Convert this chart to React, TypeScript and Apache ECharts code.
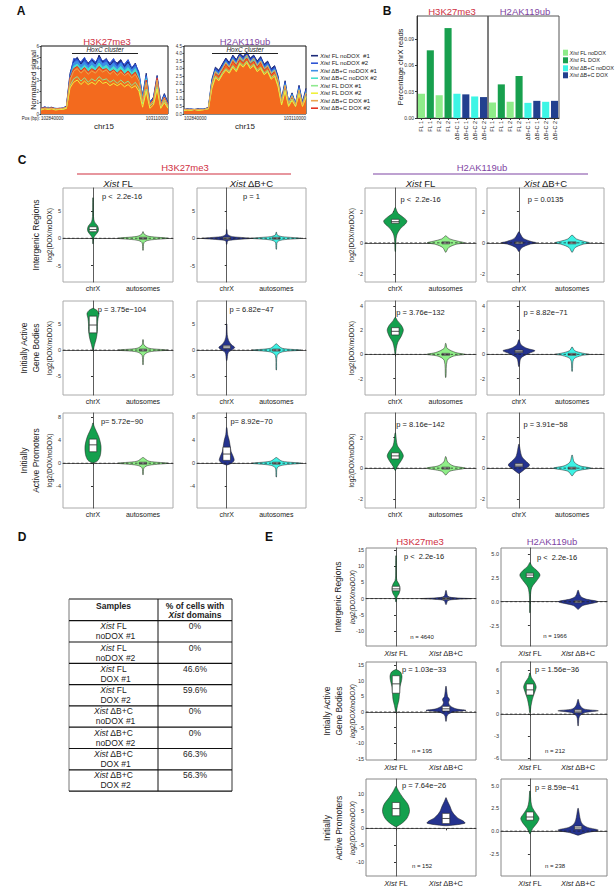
import React, { useEffect, useRef } from 'react';
import * as echarts from 'echarts';

const FONT = "'Liberation Sans', Arial, sans-serif";
const RED = '#cf2f3f';
const PURPLE = '#7f45a3';
const GREEN = '#14a04e';
const LGREEN = '#8fee88';
const NAVY = '#25338f';
const CYAN = '#3df2e4';

// ---------- Panel A : tracks over the HoxC locus ----------
const A_SERIES_NAMES = ['FL noDOX  #1', 'FL noDOX #2', 'ΔB+C noDOX #1', 'ΔB+C noDOX #2', 'FL DOX #1', 'FL DOX #2', 'ΔB+C DOX #1', 'ΔB+C DOX #2'];
const A_POS_LABELS = ['102840000', '103110000'];
const A_H3K27ME3 = [
  [0.5,0.6,0.55,0.6,0.45,0.5,0.5,0.7,3.6,4.7,5.0,4.4,4.9,4.5,4.8,4.4,5.2,4.6,4.9,4.3,4.7,4.5,4.8,4.2,4.6,4.0,4.5,3.5,1.6,3.6,1.0,1.5,3.4,1.0,1.8,1.0],
  [0.45,0.65,0.5,0.55,0.5,0.45,0.55,0.65,3.4,4.9,4.8,4.6,5.0,4.3,4.9,4.6,5.0,4.7,4.8,4.5,4.9,4.3,4.6,4.4,4.8,4.1,4.4,3.7,1.5,3.4,1.1,1.4,3.3,0.9,1.7,0.9],
  [0.5,0.55,0.6,0.5,0.5,0.5,0.5,0.6,3.3,4.5,4.7,4.3,4.6,4.2,4.6,4.3,4.8,4.4,4.6,4.2,4.5,4.1,4.5,4.0,4.4,3.9,4.2,3.4,1.4,3.3,1.0,1.3,3.2,0.9,1.6,0.8],
  [0.45,0.5,0.5,0.5,0.45,0.45,0.5,0.6,3.1,4.2,4.4,4.0,4.3,4.0,4.3,4.0,4.5,4.1,4.3,3.9,4.2,3.9,4.2,3.8,4.1,3.6,4.0,3.2,1.3,3.1,0.9,1.2,3.0,0.8,1.5,0.8],
  [0.4,0.5,0.45,0.5,0.4,0.4,0.45,0.5,2.5,3.1,3.3,2.9,3.2,2.8,3.1,2.9,3.3,3.0,3.1,2.8,3.0,2.7,3.0,2.7,2.9,2.5,2.8,2.3,0.9,2.2,0.7,1.0,2.4,0.6,1.2,0.6],
  [0.35,0.45,0.4,0.45,0.35,0.4,0.4,0.5,2.3,2.8,3.0,2.6,2.9,2.6,2.8,2.6,3.0,2.7,2.8,2.5,2.7,2.5,2.7,2.4,2.6,2.3,2.5,2.0,0.6,2.0,0.5,0.8,2.2,0.5,1.0,0.5],
  [0.45,0.5,0.5,0.5,0.45,0.45,0.5,0.6,3.0,3.8,4.0,3.6,3.9,3.5,3.8,3.6,4.0,3.7,3.9,3.5,3.8,3.4,3.7,3.4,3.6,3.2,3.5,2.9,1.1,2.8,0.8,1.2,3.0,0.7,1.4,0.7],
  [0.5,0.55,0.5,0.55,0.45,0.5,0.5,0.6,3.2,4.0,4.2,3.8,4.1,3.7,4.0,3.8,4.2,3.9,4.0,3.7,3.9,3.6,3.9,3.5,3.8,3.4,3.7,3.0,1.2,3.0,0.9,1.3,3.2,0.8,1.5,0.8],
];
const A_H2AK119UB = [
  [0.3,0.35,0.3,0.3,0.35,0.3,0.35,0.45,2.3,3.1,2.9,3.3,3.7,3.4,3.9,3.6,4.0,3.8,4.1,3.7,3.9,3.5,3.8,3.3,3.5,3.0,3.2,2.5,1.0,2.2,0.8,1.4,0.7,1.9,0.8,1.7],
  [0.3,0.3,0.35,0.3,0.3,0.35,0.3,0.4,2.2,3.0,2.8,3.2,3.6,3.3,3.8,3.5,3.9,3.7,4.0,3.6,3.8,3.4,3.7,3.2,3.4,2.9,3.1,2.4,0.9,2.1,0.8,1.3,0.7,1.8,0.7,1.6],
  [0.3,0.3,0.3,0.3,0.3,0.3,0.3,0.4,2.1,2.9,2.7,3.1,3.5,3.2,3.7,3.4,3.8,3.6,3.9,3.5,3.7,3.3,3.6,3.1,3.3,2.8,3.0,2.3,0.9,2.0,0.7,1.3,0.6,1.7,0.7,1.5],
  [0.25,0.3,0.3,0.3,0.3,0.3,0.3,0.4,2.0,2.8,2.6,3.0,3.4,3.1,3.6,3.3,3.7,3.5,3.8,3.4,3.6,3.2,3.5,3.0,3.2,2.7,2.9,2.2,0.8,1.9,0.7,1.2,0.6,1.6,0.6,1.4],
  [0.25,0.3,0.25,0.3,0.25,0.3,0.3,0.35,1.8,2.5,2.3,2.7,3.0,2.8,3.2,2.9,3.4,3.2,3.5,3.1,3.3,2.9,3.1,2.7,2.9,2.4,2.6,1.9,0.7,1.6,0.6,1.0,0.5,1.4,0.6,1.2],
  [0.25,0.25,0.25,0.3,0.25,0.25,0.3,0.35,1.7,2.4,2.2,2.6,2.9,2.7,3.1,2.8,3.3,3.1,3.4,3.0,3.2,2.8,3.0,2.6,2.8,2.3,2.5,1.8,0.6,1.5,0.5,0.9,0.5,1.3,0.5,1.1],
  [0.3,0.3,0.3,0.3,0.3,0.3,0.3,0.4,2.0,2.8,2.6,3.0,3.4,3.1,3.6,3.3,3.8,3.5,3.9,3.4,3.7,3.2,3.5,3.0,3.2,2.7,2.9,2.2,0.8,1.9,0.7,1.2,0.6,1.6,0.6,1.4],
  [0.3,0.3,0.3,0.3,0.3,0.3,0.3,0.4,1.9,2.7,2.5,2.9,3.3,3.0,3.5,3.2,3.6,3.4,3.7,3.3,3.5,3.1,3.4,2.9,3.1,2.6,2.8,2.1,0.7,1.8,0.6,1.1,0.5,1.5,0.6,1.3],
];
const A_COLORS = ['#1c2a7a', '#2f55d4', '#3d8fe6', '#46e0cc', '#8fe98f', '#f0f03c', '#eaa550', '#e5321f'];

// ---------- Panel B : percentage chrX reads ----------
const B_CATS = ['FL 1', 'FL 1', 'FL 2', 'FL 2', 'ΔB+C 1', 'ΔB+C 1', 'ΔB+C 2', 'ΔB+C 2'];
const B_H3K27ME3 = [0.0277, 0.0773, 0.026, 0.1027, 0.0277, 0.027, 0.0246, 0.0239];
const B_H2AK119UB = [0.0177, 0.0384, 0.0185, 0.048, 0.0173, 0.0196, 0.0185, 0.0196];
const B_TICKS = [0, 0.03, 0.06, 0.09];
const B_LEGEND = ['FL noDOX', 'FL DOX', 'ΔB+C noDOX', 'ΔB+C DOX'];
const B_BAR_COLORS = ['#8fec8a', '#18a04e', '#8fec8a', '#18a04e', '#3df5e5', '#22408f', '#3df5e5', '#22408f'];
const B_LEGEND_COLORS = ['#8fec8a', '#18a04e', '#3df5e5', '#22408f'];

// ---------- Panel C : violins (profile = [log2 ratio, half width]) ----------
const C_H3_FL_INT = [
  { box: [1.2, 1.6, 2.1], shape: [[-1,0.005],[0,0.01],[0.6,0.05],[1.2,0.1],[1.7,0.11],[2.3,0.09],[3,0.03],[4,0.01],[7.4,0.005]] },
  { box: [-0.1, 0, 0.1], shape: [[-2.2,0.005],[-0.8,0.02],[-0.35,0.12],[0,0.5],[0.35,0.12],[0.8,0.02],[1.2,0.005]] },
];
const C_H3_DBC_INT = [
  { box: [-0.1, 0, 0.1], shape: [[-1.1,0.005],[-0.5,0.02],[-0.3,0.12],[0,0.5],[0.3,0.12],[0.7,0.02],[1.6,0.005]] },
  { box: [-0.1, 0, 0.1], shape: [[-2,0.005],[-0.7,0.02],[-0.3,0.12],[0,0.5],[0.3,0.12],[0.6,0.02],[1.1,0.005]] },
];
const C_H3_FL_GB = [
  { box: [3.3, 4.8, 6.5], shape: [[0,0.005],[1,0.03],[2,0.06],[3,0.08],[4,0.09],[5,0.09],[6,0.1],[7,0.12],[7.6,0.08],[8,0.005]] },
  { box: [-0.1, 0, 0.1], shape: [[-2.8,0.005],[-1,0.02],[-0.35,0.12],[0,0.5],[0.35,0.12],[1,0.02],[2,0.005]] },
];
const C_H3_DBC_GB = [
  { box: [0.3, 0.6, 0.9], shape: [[-2,0.005],[-0.5,0.03],[0,0.1],[0.5,0.16],[1,0.1],[1.8,0.04],[3,0.01],[5,0.005]] },
  { box: [-0.1, 0, 0.1], shape: [[-3.8,0.005],[-1,0.02],[-0.35,0.12],[0,0.5],[0.35,0.12],[1.2,0.005]] },
];
const C_H3_FL_PR = [
  { box: [2.0, 3.2, 4.2], shape: [[0.1,0.02],[0.5,0.1],[1.5,0.15],[3,0.16],[4.5,0.12],[5.5,0.07],[6.5,0.02],[7,0.005]] },
  { box: [-0.1, 0, 0.1], shape: [[-2,0.005],[-0.8,0.02],[-0.35,0.12],[0,0.5],[0.35,0.12],[1,0.005]] },
];
const C_H3_DBC_PR = [
  { box: [0.5, 1.6, 2.8], shape: [[-0.3,0.01],[0,0.1],[0.5,0.15],[1.2,0.13],[2,0.09],[3,0.07],[4,0.05],[5,0.02],[6.2,0.005]] },
  { box: [-0.1, 0, 0.1], shape: [[-2.4,0.005],[-0.8,0.02],[-0.35,0.12],[0,0.5],[0.35,0.12],[1,0.005]] },
];
const C_H2_FL_INT = [
  { box: [1.25, 1.35, 1.5], shape: [[-0.55,0.005],[0,0.01],[0.5,0.03],[0.9,0.1],[1.2,0.2],[1.4,0.23],[1.65,0.15],[1.9,0.05],[2.25,0.005]] },
  { box: [-0.05, 0, 0.05], shape: [[-0.6,0.005],[-0.3,0.06],[-0.1,0.2],[0,0.37],[0.1,0.25],[0.25,0.08],[0.45,0.005]] },
];
const C_H2_DBC_INT = [
  { box: [-0.05, 0, 0.05], shape: [[-0.55,0.005],[-0.3,0.06],[-0.1,0.2],[0,0.33],[0.1,0.22],[0.3,0.08],[0.7,0.005]] },
  { box: [-0.05, 0, 0.05], shape: [[-0.6,0.005],[-0.3,0.06],[-0.1,0.2],[0,0.33],[0.1,0.22],[0.25,0.08],[0.5,0.005]] },
];
const C_H2_FL_GB = [
  { box: [1.6, 1.9, 2.2], shape: [[0,0.005],[0.5,0.02],[1,0.05],[1.5,0.12],[2,0.16],[2.4,0.12],[2.8,0.04],[3.05,0.005]] },
  { box: [-0.05, 0, 0.05], shape: [[-1.9,0.005],[-0.5,0.03],[-0.15,0.15],[0,0.38],[0.15,0.2],[0.5,0.03],[0.9,0.005]] },
];
const C_H2_DBC_GB = [
  { box: [0.15, 0.25, 0.35], shape: [[-1,0.005],[-0.3,0.04],[0.1,0.2],[0.3,0.3],[0.5,0.15],[0.8,0.04],[1.2,0.005]] },
  { box: [-0.05, 0, 0.05], shape: [[-1.4,0.005],[-0.4,0.03],[-0.1,0.18],[0,0.33],[0.1,0.2],[0.3,0.05],[0.6,0.005]] },
];
const C_H2_FL_PR = [
  { box: [0.6, 0.8, 1.0], shape: [[-0.15,0.005],[0.1,0.04],[0.5,0.12],[0.8,0.16],[1.1,0.12],[1.5,0.04],[2.3,0.005]] },
  { box: [-0.05, 0, 0.05], shape: [[-0.45,0.005],[-0.2,0.08],[0,0.38],[0.15,0.15],[0.4,0.04],[0.75,0.005]] },
];
const C_H2_DBC_PR = [
  { box: [0.1, 0.2, 0.3], shape: [[-0.35,0.005],[-0.1,0.1],[0.2,0.2],[0.5,0.12],[0.8,0.05],[1.55,0.005]] },
  { box: [-0.05, 0, 0.05], shape: [[-0.5,0.005],[-0.2,0.08],[0,0.35],[0.15,0.15],[0.4,0.04],[0.85,0.005]] },
];
const C_XLABELS = ['chrX', 'autosomes'];
const C_PVALUES = [
  ['p <  2.2e-16', 'p = 1', 'p <  2.2e-16', 'p = 0.0135'],
  ['p = 3.75e\u2212104', 'p = 6.82e\u221247', 'p = 3.76e\u2212132', 'p = 8.82e\u221271'],
  ['p= 5.72e\u221290', 'p= 8.92e\u221270', 'p = 8.16e\u2212142', 'p = 3.91e\u221258'],
];
const C_TICKS_H3 = [[-5, 0, 5], [-5, 0, 5], [-4, 0, 4, 8]];
const C_TICKS_H2 = [[-2, 0, 2], [-2, 0, 2, 4], [-2, 0, 2]];

// ---------- Panel D : table ----------
const D_SAMPLE_TYPE = ['FL', 'FL', 'FL', 'FL', 'ΔB+C', 'ΔB+C', 'ΔB+C', 'ΔB+C'];
const D_SAMPLE_COND = ['noDOX #1', 'noDOX #2', 'DOX #1', 'DOX #2', 'noDOX #1', 'noDOX #2', 'DOX #1', 'DOX #2'];
const D_PERCENT = ['0%', '0%', '46.6%', '59.6%', '0%', '0%', '66.3%', '56.3%'];

// ---------- Panel E : violins ----------
const E_H3_INT = [
  { box: [2.4, 3, 3.8], shape: [[-1,0.005],[0.5,0.02],[1.5,0.06],[3,0.08],[4.5,0.06],[5.5,0.02],[7,0.008],[13.2,0.005]] },
  { box: [-0.2, 0, 0.2], shape: [[-1.8,0.005],[-0.6,0.04],[-0.25,0.2],[0,0.5],[0.25,0.2],[0.7,0.04],[2.5,0.005]] },
];
const E_H2_INT = [
  { box: [2.55, 2.8, 3.0], shape: [[-1.15,0.005],[0.5,0.01],[1.5,0.04],[2.2,0.14],[2.8,0.21],[3.3,0.14],[3.7,0.05],[4.1,0.005]] },
  { box: [-0.1, 0, 0.1], shape: [[-0.8,0.005],[-0.4,0.1],[0,0.41],[0.3,0.15],[0.6,0.05],[1.2,0.005]] },
];
const E_H3_GB = [
  { box: [6, 9, 11.6], shape: [[0,0.005],[2,0.03],[4,0.06],[6,0.07],[8,0.08],[10,0.11],[11.5,0.12],[12.8,0.09],[13.6,0.005]] },
  { box: [0.3, 1, 1.8], shape: [[-3,0.005],[-1,0.03],[0,0.15],[0.5,0.4],[1,0.2],[2,0.08],[3,0.05],[4,0.07],[5,0.03],[8.2,0.005]] },
];
const E_H2_GB = [
  { box: [2.6, 3.3, 4.1], shape: [[0.2,0.005],[1,0.02],[2,0.05],[3,0.1],[3.7,0.13],[4.4,0.09],[5,0.03],[5.6,0.005]] },
  { box: [0.2, 0.4, 0.6], shape: [[-1.6,0.005],[-0.3,0.03],[0.2,0.15],[0.45,0.42],[0.7,0.12],[1.2,0.04],[2,0.005]] },
];
const E_H3_PR = [
  { box: [3.7, 5.8, 7.6], shape: [[0.5,0.01],[1.5,0.12],[3,0.22],[5,0.27],[7,0.24],[9,0.14],[11,0.05],[12.3,0.005]] },
  { box: [1.4, 2.9, 4.4], shape: [[0.8,0.05],[1.5,0.38],[2.2,0.34],[3,0.24],[4,0.17],[5,0.12],[6.5,0.08],[8,0.03],[9,0.005]] },
];
const E_H2_PR = [
  { box: [1.2, 1.55, 2.1], shape: [[-0.3,0.005],[0.3,0.06],[0.9,0.15],[1.4,0.19],[2,0.12],[2.6,0.05],[3.3,0.02],[4.4,0.005]] },
  { box: [0.2, 0.35, 0.55], shape: [[-0.45,0.01],[-0.2,0.15],[0.1,0.42],[0.4,0.2],[0.7,0.1],[1.2,0.05],[2.5,0.005]] },
];
const E_XLABELS = ['FL', 'ΔB+C'];
const E_PVALUES = [['p <  2.2e-16', 'p <  2.2e-16'], ['p = 1.03e\u221233', 'p = 1.56e\u221236'], ['p = 7.64e\u221226', 'p = 8.59e\u221241']];
const E_N = [['n = 4640', 'n = 1966'], ['n = 195', 'n = 212'], ['n = 152', 'n = 238']];
const E_TICKS_H3 = [[-10, -5, 0, 5, 10, 15], [-15, -10, -5, 0, 5, 10, 15], [-10, -5, 0, 5, 10]];
const E_TICKS_H2 = [[-2.5, 0, 2.5, 5], [-6, -3, 0, 3, 6], [-2.5, 0, 2.5, 5]];

// ---------- helpers ----------
function rich(size: number, bold?: boolean, color?: string) {
  return { i: { fontStyle: 'italic', fontSize: size, fontFamily: FONT, fontWeight: bold ? 'bold' : 'normal', fill: color || '#222' } };
}
function T(x: number, y: number, text: string, o: any = {}) {
  const size = o.size ?? 7;
  return {
    type: 'text', x, y, rotation: o.rot ? (o.rot * Math.PI) / 180 : 0, silent: true, z: 50,
    style: {
      text, fontSize: size, fontFamily: FONT, fontWeight: o.bold ? 'bold' : 'normal',
      fontStyle: o.italic ? 'italic' : 'normal', fill: o.color || '#222',
      align: o.align || 'center', verticalAlign: o.va || 'middle',
      textAlign: o.align || 'center', textVerticalAlign: o.va || 'middle',
      rich: rich(size, o.bold, o.color),
    },
  };
}
function L(x1: number, y1: number, x2: number, y2: number, color = '#111', w = 1) {
  return { type: 'line', silent: true, z: 50, shape: { x1, y1, x2, y2 }, style: { stroke: color, lineWidth: w } };
}
function R(x: number, y: number, width: number, height: number, fill: string, stroke?: string, w = 1) {
  return { type: 'rect', silent: true, z: 50, shape: { x, y, width, height }, style: { fill, stroke: stroke || 'none', lineWidth: w } };
}

function violinSeries(gi: number, violins: any[], colors: string[]) {
  return {
    type: 'custom', xAxisIndex: gi, yAxisIndex: gi, clip: false, silent: true,
    data: violins.map((_: any, i: number) => [i, 0]),
    renderItem: (params: any, api: any) => {
      const i = params.dataIndex;
      const v = violins[i];
      const unit = api.size([1, 0])[0];
      const cx = api.coord([i, 0])[0];
      const right = v.shape.map((p: number[]) => [cx + p[1] * unit, api.coord([i, p[0]])[1]]);
      const left = v.shape.slice().reverse().map((p: number[]) => [cx - p[1] * unit, api.coord([i, p[0]])[1]]);
      const children: any[] = [];
      children.push({ type: 'polygon', shape: { points: right.concat(left), smooth: 0.3 }, style: { fill: colors[i], stroke: '#1c1c1c', lineWidth: 0.5 } });
      const [q1, m, q3] = v.box;
      const bw = 0.075 * unit;
      const y1 = api.coord([i, q1])[1];
      const y3 = api.coord([i, q3])[1];
      const ym = api.coord([i, m])[1];
      const h = Math.max(y1 - y3, 2);
      children.push({ type: 'rect', shape: { x: cx - bw, y: ym - (ym - y3) - (h - (y1 - y3)) / 2, width: 2 * bw, height: h }, style: { fill: '#fff', stroke: '#222', lineWidth: 0.6 } });
      children.push({ type: 'line', shape: { x1: cx - bw, y1: ym, x2: cx + bw, y2: ym }, style: { stroke: '#222', lineWidth: 0.8 } });
      if (i === 0) {
        const cs = params.coordSys;
        const y0 = api.coord([0, 0])[1];
        children.push({ type: 'line', z2: 100, shape: { x1: cs.x, y1: y0, x2: cs.x + cs.width, y2: y0 }, style: { stroke: '#222', lineWidth: 0.7, lineDash: [2.5, 2] } });
      }
      return { type: 'group', children };
    },
  };
}

function buildOption() {
  const grids: any[] = [];
  const xAxis: any[] = [];
  const yAxis: any[] = [];
  const series: any[] = [];
  const graphic: any[] = [];

  // ----- A -----
  const aPanels = [
    { left: 41, width: 127, data: A_H3K27ME3, max: 6, interval: 1, dec: 0 },
    { left: 184, width: 122, data: A_H2AK119UB, max: 4.5, interval: 0.5, dec: 1 },
  ];
  aPanels.forEach((p) => {
    const gi = grids.length;
    grids.push({ left: p.left, top: 46, width: p.width, height: 68, show: true, borderColor: '#111', borderWidth: 1 });
    xAxis.push({ gridIndex: gi, type: 'category', boundaryGap: false, data: p.data[0].map((_: number, k: number) => String(k)), axisLabel: { show: false }, axisTick: { show: false }, axisLine: { show: false } });
    yAxis.push({ gridIndex: gi, type: 'value', min: 0, max: p.max, interval: p.interval, splitLine: { show: false }, axisLine: { show: false }, axisTick: { show: true, length: 1.5, lineStyle: { color: '#333' } }, axisLabel: { fontSize: 4.5, margin: 2, color: '#333', fontFamily: FONT, formatter: (v: number) => v.toFixed(p.dec) } });
    [0, 1, 2, 3, 7, 4, 5, 6].forEach((k) => {
      series.push({
        type: 'line', xAxisIndex: gi, yAxisIndex: gi, data: p.data[k], symbol: 'none', showSymbol: false, silent: true,
        lineStyle: { color: A_COLORS[k], width: 1 },
        areaStyle: k < 4 ? { color: A_COLORS[k], opacity: 1 } : k === 7 ? { color: '#f36a1e', opacity: 1 } : undefined,
      });
    });
  });

  // ----- B -----
  [B_H3K27ME3, B_H2AK119UB].forEach((vals, j) => {
    const gi = grids.length;
    grids.push({ left: 417 + j * 71, top: 16, width: 71, height: 102, show: true, borderColor: '#555', borderWidth: 1 });
    xAxis.push({ gridIndex: gi, type: 'category', data: B_CATS, axisLine: { lineStyle: { color: '#333' } }, axisTick: { show: true, length: 2, alignWithLabel: true }, axisLabel: { interval: 0, rotate: 90, fontSize: 5.5, margin: 3, color: '#222', fontFamily: FONT } });
    yAxis.push({ gridIndex: gi, type: 'value', min: 0, max: 0.1165, splitLine: { show: false }, axisLine: { show: j === 0, lineStyle: { color: '#333' } }, axisTick: { show: j === 0, length: 2, customValues: B_TICKS }, axisLabel: { show: j === 0, customValues: B_TICKS, fontSize: 5, margin: 3, color: '#333', fontFamily: FONT, formatter: (v: number) => v.toFixed(2) } });
    series.push({ type: 'bar', xAxisIndex: gi, yAxisIndex: gi, barCategoryGap: '20%', silent: true, data: vals.map((v, k) => ({ value: v, itemStyle: { color: B_BAR_COLORS[k] } })) });
  });

  // ----- C & E violin grids -----
  const addViolinGrid = (x: number, w: number, y: number, h: number, range: number[], ticks: number[], dec: number, labels: string[], italicPrefix: boolean, violins: any[], colors: string[], border: string) => {
    const gi = grids.length;
    grids.push({ left: x, top: y, width: w, height: h, show: true, borderColor: border, borderWidth: 1 });
    xAxis.push({
      gridIndex: gi, type: 'value', min: -0.6, max: 1.6, splitLine: { show: false },
      axisLine: { lineStyle: { color: '#333', width: 0.8 } },
      axisTick: { show: true, length: 2, customValues: [0, 1], lineStyle: { color: '#333' } },
      axisLabel: {
        customValues: [0, 1], fontSize: italicPrefix ? 7.5 : 7, margin: 3, color: '#222', fontFamily: FONT,
        formatter: (v: number) => (italicPrefix ? '{i|Xist} ' : '') + labels[Math.round(v)],
        rich: { i: { fontStyle: 'italic', fontSize: 7.5, fontFamily: FONT, color: '#222' } },
      },
    });
    yAxis.push({
      gridIndex: gi, type: 'value', min: range[0], max: range[1], splitLine: { show: false },
      axisLine: { show: true, lineStyle: { color: '#333', width: 0.8 } },
      axisTick: { show: true, length: 2, customValues: ticks, lineStyle: { color: '#333' } },
      axisLabel: { customValues: ticks, fontSize: 5.5, margin: 2, color: '#333', fontFamily: FONT, formatter: (v: number) => v.toFixed(dec) },
    });
    series.push(violinSeries(gi, violins, colors));
  };

  const cCols = [{ x: 63, w: 110 }, { x: 197, w: 109 }, { x: 365, w: 111 }, { x: 487, w: 117 }];
  const cRows = [{ y: 188, h: 94 }, { y: 301, h: 94 }, { y: 413, h: 95 }];
  const cRangesH3 = [[-8, 9.2], [-8.6, 9.4], [-7.8, 8.75]];
  const cRangesH2 = [[-2.5, 3.5], [-3.35, 4.4], [-2.6, 3.6]];
  const cData = [
    [C_H3_FL_INT, C_H3_DBC_INT, C_H2_FL_INT, C_H2_DBC_INT],
    [C_H3_FL_GB, C_H3_DBC_GB, C_H2_FL_GB, C_H2_DBC_GB],
    [C_H3_FL_PR, C_H3_DBC_PR, C_H2_FL_PR, C_H2_DBC_PR],
  ];
  const cColors = [[GREEN, LGREEN], [NAVY, CYAN], [GREEN, LGREEN], [NAVY, CYAN]];
  cRows.forEach((r, ri) => {
    cCols.forEach((c, ci) => {
      const h3 = ci < 2;
      addViolinGrid(c.x, c.w, r.y, r.h, h3 ? cRangesH3[ri] : cRangesH2[ri], h3 ? C_TICKS_H3[ri] : C_TICKS_H2[ri], 0, C_XLABELS, false, cData[ri][ci], cColors[ci], '#aaa');
      graphic.push(T(c.x + c.w / 2 + (ci === 0 ? 4 : 0), r.y + (h3 ? 8 : 11), C_PVALUES[ri][ci], { size: 7.5 }));
    });
  });

  const eCols = [{ x: 366, w: 110 }, { x: 501, w: 106 }];
  const eRows = [{ y: 548, h: 98 }, { y: 662, h: 98 }, { y: 779, h: 98 }];
  const eRangesH3 = [[-14.6, 15.6], [-15.4, 16], [-14, 14.5]];
  const eRangesH2 = [[-4.65, 5.64], [-6.26, 7.1], [-4.94, 5.73]];
  const eData = [[E_H3_INT, E_H2_INT], [E_H3_GB, E_H2_GB], [E_H3_PR, E_H2_PR]];
  const ePY = [[556, 557], [669, 669], [785, 787]];
  const eNY = [[637, 636], [751, 751], [866, 866]];
  eRows.forEach((r, ri) => {
    eCols.forEach((c, ci) => {
      const h3 = ci === 0;
      const dec = !h3 && ri !== 1 ? 1 : 0;
      addViolinGrid(c.x, c.w, r.y, r.h, h3 ? eRangesH3[ri] : eRangesH2[ri], h3 ? E_TICKS_H3[ri] : E_TICKS_H2[ri], dec, E_XLABELS, true, eData[ri][ci], [GREEN, NAVY], '#888');
      graphic.push(T(c.x + c.w / 2 + 3, ePY[ri][ci], E_PVALUES[ri][ci], { size: 7.5 }));
      graphic.push(T(c.x + c.w / 2 + 1, eNY[ri][ci], E_N[ri][ci], { size: 6 }));
    });
  });

  // ----- texts: panel letters -----
  graphic.push(T(21, 11, 'A', { size: 12, bold: true, color: '#111' }));
  graphic.push(T(387, 11, 'B', { size: 12, bold: true, color: '#111' }));
  graphic.push(T(22, 160, 'C', { size: 12, bold: true, color: '#111' }));
  graphic.push(T(22, 537, 'D', { size: 12, bold: true, color: '#111' }));
  graphic.push(T(269, 537, 'E', { size: 12, bold: true, color: '#111' }));

  // A texts
  graphic.push(T(107, 41, 'H3K27me3', { size: 9.5, color: RED }));
  graphic.push(T(245, 41, 'H2AK119ub', { size: 9.5, color: PURPLE }));
  graphic.push(T(105, 49.5, 'HoxC cluster', { size: 6.5, italic: true }));
  graphic.push(L(72, 53.5, 138, 53.5, '#222', 1));
  graphic.push(T(245, 49.5, 'HoxC cluster', { size: 6.5, italic: true }));
  graphic.push(L(212, 53.5, 278, 53.5, '#222', 1));
  graphic.push(T(40, 118.5, 'Pos (bp):', { size: 4.5, align: 'right' }));
  graphic.push(T(41, 118.5, A_POS_LABELS[0], { size: 4.5, align: 'left' }));
  graphic.push(T(168, 118.5, A_POS_LABELS[1], { size: 4.5, align: 'right' }));
  graphic.push(T(184, 118.5, A_POS_LABELS[0], { size: 4.5, align: 'left' }));
  graphic.push(T(306, 118.5, A_POS_LABELS[1], { size: 4.5, align: 'right' }));
  graphic.push(T(104, 126, 'chr15', { size: 8 }));
  graphic.push(T(245, 126, 'chr15', { size: 8 }));
  graphic.push(T(33, 80, 'Normalized signal', { size: 7.5, rot: 90 }));
  A_SERIES_NAMES.forEach((n, k) => {
    const y = 55.7 + k * 7.5;
    graphic.push(L(311, y, 318, y, A_COLORS[k], 1.6));
    graphic.push(T(320, y, '{i|Xist} ' + n, { size: 6, align: 'left' }));
  });

  // B texts
  graphic.push(T(452, 11, 'H3K27me3', { size: 9.5, color: RED }));
  graphic.push(T(525, 11, 'H2AK119ub', { size: 9.5, color: PURPLE }));
  graphic.push(T(400, 67, 'Percentage chrX reads', { size: 7.5, rot: 90 }));
  const bLegY = [52.7, 60.3, 68.3, 75.3];
  B_LEGEND.forEach((n, k) => {
    graphic.push(R(563, bLegY[k] - 3, 5, 6, B_LEGEND_COLORS[k]));
    graphic.push(T(569.5, bLegY[k], '{i|Xist} ' + n, { size: 5.5, align: 'left' }));
  });

  // C texts
  graphic.push(T(185, 167, 'H3K27me3', { size: 9.5, color: RED }));
  graphic.push(L(77, 174, 291, 174, RED, 1.2));
  graphic.push(T(482, 167, 'H2AK119ub', { size: 9.5, color: PURPLE }));
  graphic.push(L(373, 174, 588, 174, PURPLE, 1.2));
  cCols.forEach((c, ci) => {
    graphic.push(T(c.x + c.w / 2, 183, ci % 2 === 0 ? '{i|Xist} FL' : '{i|Xist} ΔB+C', { size: 9.5 }));
  });
  const cRowMid = cRows.map((r) => r.y + r.h / 2);
  graphic.push(T(36, cRowMid[0], 'Intergenic Regions', { size: 8.5, rot: 90 }));
  graphic.push(T(24, cRowMid[1], 'Initially Active', { size: 8.5, rot: 90 }));
  graphic.push(T(35.5, cRowMid[1], 'Gene Bodies', { size: 8.5, rot: 90 }));
  graphic.push(T(24, cRowMid[2], 'Initially', { size: 8.5, rot: 90 }));
  graphic.push(T(35.5, cRowMid[2], 'Active Promoters', { size: 8.5, rot: 90 }));
  cRowMid.forEach((m) => {
    graphic.push(T(49, m, 'log2(DOX/noDOX)', { size: 6.5, rot: 90 }));
    graphic.push(T(351, m, 'log2(DOX/noDOX)', { size: 6.5, rot: 90 }));
  });

  // D table
  const tx0 = 69, tx1 = 232, tcol = 158, ttop = 599, thead = 620.7, trow = 21.3;
  const tbottom = thead + trow * D_PERCENT.length;
  graphic.push(L(tx0, ttop, tx1, ttop, '#111', 1));
  graphic.push(L(tx0, ttop, tx0, tbottom, '#777', 1));
  graphic.push(L(tx1, ttop, tx1, tbottom, '#333', 1));
  graphic.push(L(tcol, ttop, tcol, tbottom, '#111', 1));
  graphic.push(L(tx0, thead, tx1, thead, '#111', 1.2));
  graphic.push(T((tx0 + tcol) / 2, 605.5, 'Samples', { size: 8.5, bold: true }));
  graphic.push(T((tcol + tx1) / 2, 605.5, '% of cells with', { size: 8.5, bold: true }));
  graphic.push(T((tcol + tx1) / 2, 615, '{i|Xist} domains', { size: 8.5, bold: true }));
  D_PERCENT.forEach((p, k) => {
    const top = thead + k * trow;
    graphic.push(L(tx0, top + trow, tx1, top + trow, '#111', 1.2));
    graphic.push(T((tx0 + tcol) / 2, top + 5.5, '{i|Xist} ' + D_SAMPLE_TYPE[k], { size: 8.5 }));
    graphic.push(T((tx0 + tcol) / 2 + 2, top + 15.5, D_SAMPLE_COND[k], { size: 8.5 }));
    graphic.push(T((tcol + tx1) / 2, top + 5.5, p, { size: 8.5 }));
  });

  // E texts
  graphic.push(T(420, 541, 'H3K27me3', { size: 9.5, color: RED }));
  graphic.push(T(552, 541, 'H2AK119ub', { size: 9.5, color: PURPLE }));
  const eRowMid = eRows.map((r) => r.y + r.h / 2);
  graphic.push(T(338, eRowMid[0], 'Intergenic Regions', { size: 8.5, rot: 90 }));
  graphic.push(T(327, eRowMid[1], 'Intially Active', { size: 8.5, rot: 90 }));
  graphic.push(T(338.5, eRowMid[1], 'Gene Bodies', { size: 8.5, rot: 90 }));
  graphic.push(T(327, eRowMid[2], 'Initially', { size: 8.5, rot: 90 }));
  graphic.push(T(338.5, eRowMid[2], 'Active Promoters', { size: 8.5, rot: 90 }));
  eRowMid.forEach((m) => graphic.push(T(352, m, 'log2(DOX/noDOX)', { size: 6.5, rot: 90, italic: true })));

  return { animation: false, backgroundColor: '#fff', grid: grids, xAxis, yAxis, series, graphic: { elements: graphic } };
}

export default function App() {
  const ref = useRef<HTMLDivElement>(null);
  useEffect(() => {
    const chart = echarts.init(ref.current as HTMLDivElement, null, { renderer: 'svg' });
    chart.setOption(buildOption() as any);
    return () => chart.dispose();
  }, []);
  return <div ref={ref} style={{ position: 'absolute', left: 0, top: 0, width: 615, height: 887, background: '#fff' }} />;
}
